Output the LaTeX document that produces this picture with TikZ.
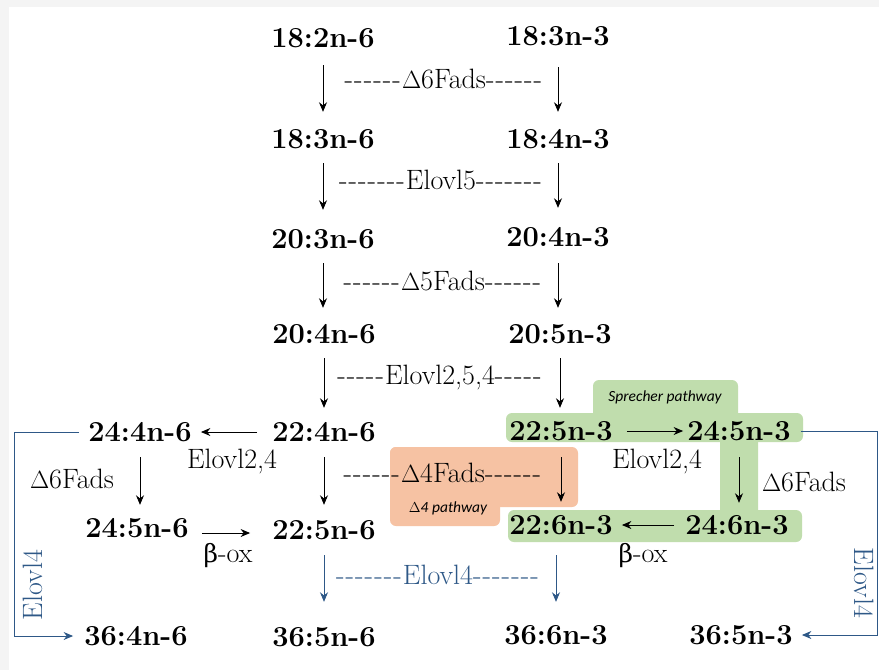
\documentclass[tikz,border=0pt]{standalone}
\usepackage{fontspec}
\usetikzlibrary{arrows.meta}
\newfontfamily\pathfont{Carlito}
\newfontfamily\greekfont{DejaVu Serif}
\definecolor{panelgray}{RGB}{244,244,244}
\definecolor{pathgreen}{RGB}{192,221,173}
\definecolor{pathorange}{RGB}{246,194,163}
\definecolor{elovlblue}{RGB}{46,88,135}
% runs of separate, slightly spaced hyphens (no dash ligatures)
\newcommand{\hy}{-\kern1.1pt}
\newcommand{\hfive}{\hy\hy\hy\hy\hy}
\newcommand{\hsix}{\hy\hy\hy\hy\hy\hy}
\newcommand{\hseven}{\hy\hy\hy\hy\hy\hy\hy}
\newcommand{\betaox}{{\greekfont\fontsize{25}{30}\selectfont β}-ox}
\tikzset{
  fa/.style={font=\fontsize{29}{33}\selectfont\bfseries, inner sep=0pt,
             text height=18pt, text depth=0pt, anchor=center},
  enz/.style={font=\fontsize{28}{32}\selectfont, inner sep=0pt},
  enzblue/.style={enz, text=elovlblue},
  pathlab/.style={font=\pathfont\itshape\fontsize{15.5}{18}\selectfont, inner sep=0pt},
  arr/.style={-{Stealth[length=9.5pt,width=8pt]}, line width=0.9pt, black},
  barr/.style={-{Stealth[length=9.5pt,width=8pt]}, line width=0.9pt, elovlblue},
  bline/.style={line width=0.9pt, elovlblue},
}
\begin{document}
\begin{tikzpicture}[x=1pt,y=-1pt]
% page and panel
\fill[panelgray] (0,0) rectangle (879,670);
\fill[white] (9,7) rectangle (879,670);
\useasboundingbox (0,0) rectangle (879,670);

% pathway highlights
\begin{scope}[rounded corners=6pt]
  \fill[pathorange] (390,447) rectangle (578,507);
  \fill[pathorange] (390,447) rectangle (500,526);
  \fill[pathgreen] (593,380) rectangle (738,422);
  \fill[pathgreen] (506,413) rectangle (803,442);
  \fill[pathgreen] (720,432) rectangle (758,520);
  \fill[pathgreen] (508,510) rectangle (802,542);
\end{scope}
\node[pathlab] (sprecher) at (665,397) {Sprecher pathway};
\node[pathlab] (dfour) at (448,508) {$\Delta$4 pathway};

% fatty acids
\node[fa] (a182n6) at (323,38) {18:2n-6};
\node[fa] (a183n3) at (558,36) {18:3n-3};
\node[fa] (a183n6) at (323,139) {18:3n-6};
\node[fa] (a184n3) at (558,139) {18:4n-3};
\node[fa] (a203n6) at (323,239) {20:3n-6};
\node[fa] (a204n3) at (558,237) {20:4n-3};
\node[fa] (a204n6) at (324,334) {20:4n-6};
\node[fa] (a205n3) at (560,334) {20:5n-3};
\node[fa] (a244n6) at (140,432) {24:4n-6};
\node[fa] (a224n6) at (324,432) {22:4n-6};
\node[fa] (a225n3) at (561,431) {22:5n-3};
\node[fa] (a245n3) at (739,431) {24:5n-3};
\node[fa] (a245n6) at (137,528) {24:5n-6};
\node[fa] (a225n6) at (324,530) {22:5n-6};
\node[fa] (a226n3) at (561,525) {22:6n-3};
\node[fa] (a246n3) at (737,525) {24:6n-3};
\node[fa] (a364n6) at (136,636) {36:4n-6};
\node[fa] (a365n6) at (324,637) {36:5n-6};
\node[fa] (a366n3) at (556,635) {36:6n-3};
\node[fa] (a365n3) at (741,635) {36:5n-3};

% enzymes
\node[enz] (e1) at (444,79) {\hsix$\Delta$6Fads\hsix};
\node[enz] (e2) at (441,180) {\hseven Elovl5\hseven};
\node[enz] (e3) at (443,281) {\hsix$\Delta$5Fads\hsix};
\node[enz] (e4) at (440,377) {\hfive Elovl2,5,4\hfive};
\node[enz] (e5) at (443,473) {\hsix$\Delta$4Fads\hsix};
\node[enzblue] (e6) at (438,575) {\hseven Elovl4\hseven};
\node[enz] (e7) at (232,461) {Elovl2,4};
\node[enz] (e8) at (72,479) {$\Delta$6Fads};
\node[enz] (e9) at (228,556) {\betaox};
\node[enz] (e10) at (657,461) {Elovl2,4};
\node[enz] (e11) at (804,482) {$\Delta$6Fads};
\node[enz] (e12) at (643,556) {\betaox};
\node[enzblue, rotate=90] (e13) at (33,585) {Elovl4};
\node[enzblue, rotate=-90] (e14) at (864,583) {Elovl4};

% main chain, both series
\draw[arr, shorten <=18pt, shorten >=18pt] (a182n6.south) -- (a183n6.north);
\draw[arr, shorten <=20pt, shorten >=18pt] (a183n3.south |- a182n6.south) -- (a184n3.north);
\draw[arr, shorten <=15pt, shorten >=20pt] (a183n6.south) -- (a203n6.north);
\draw[arr, shorten <=15pt, shorten >=20pt] (a184n3.south) -- (a204n3.north);
\draw[arr, shorten <=15pt, shorten >=17pt] (a203n6.south) -- (a203n6.south |- a204n6.north);
\draw[arr, shorten <=17pt, shorten >=17pt] (a204n3.south) -- (a204n3.south |- a204n6.north);
\draw[arr, shorten <=15pt, shorten >=15pt] (a204n6.south) -- (a224n6.north);
\draw[arr, shorten <=15pt, shorten >=14pt] (a205n3.south) -- (a205n3.south |- a225n3.north);
\draw[arr, shorten <=16pt, shorten >=16pt] (a224n6.south) -- (a225n6.north);
\draw[arr, shorten <=17pt, shorten >=14pt] (a225n3.south) -- (a225n3.south |- a226n3.north);

% n-6 side branch
\draw[arr, shorten <=15pt, shorten >=9pt] (a224n6.west) -- (a224n6.west -| a244n6.east);
\draw[arr, shorten <=16pt, shorten >=14pt] (a244n6.south) -- (a244n6.south |- a245n6.north);
\draw[arr, shorten <=13pt, shorten >=22pt] (a245n6.east |- 0,533) -- (a225n6.west |- 0,533);

% Sprecher shunt
\draw[arr, shorten <=14pt, shorten >=4pt] (a225n3.east) -- (a225n3.east -| a245n3.west);
\draw[arr, shorten <=17pt, shorten >=13pt] (a245n3.south) -- (a245n3.south |- a246n3.north);
\draw[arr, shorten <=11pt, shorten >=9pt] (a246n3.west) -- (a246n3.west -| a226n3.east);

% Elovl4 elongations
\draw[barr, shorten <=16pt, shorten >=26pt] (a225n6.south) -- (a365n6.north);
\draw[barr, shorten <=21pt, shorten >=24pt] (a226n3.south -| a366n3.south) -- (a366n3.north);
\draw[bline] ([xshift=-9pt]a244n6.west) -- ++(-65,0) coordinate (lcorner);
\draw[barr] (lcorner) |- ([xshift=-11pt]a364n6.west);
\draw[bline] ([xshift=10pt]a245n3.east) -- ++(77,0) coordinate (rcorner);
\draw[barr] (rcorner) |- ([xshift=9pt]a365n3.east);
\end{tikzpicture}
\end{document}
